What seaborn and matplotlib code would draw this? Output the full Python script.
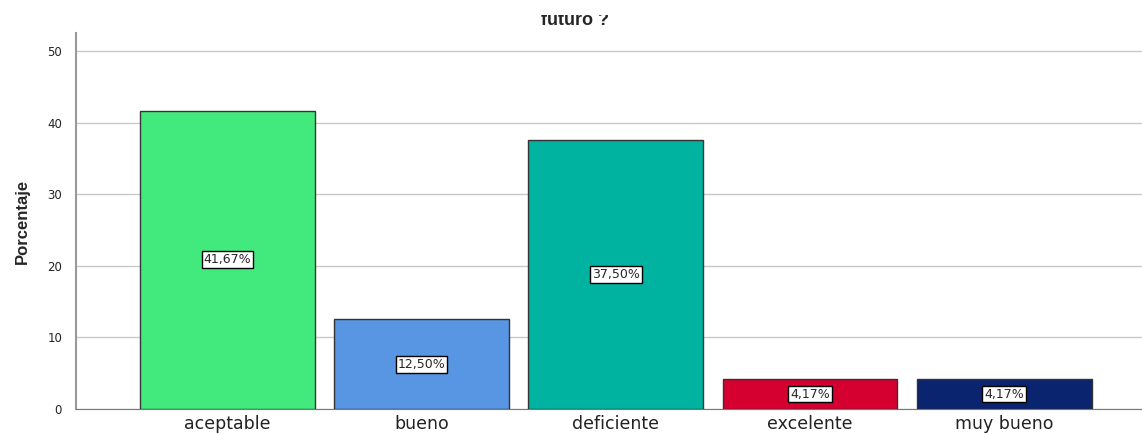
import matplotlib
matplotlib.use("Agg")
import matplotlib.pyplot as plt
from matplotlib.patches import Rectangle
import seaborn as sns
import pandas as pd

categorias = ["aceptable", "bueno", "deficiente", "excelente", "muy bueno"]
porcentajes = [41.67, 12.50, 37.50, 4.17, 4.17]
etiquetas = ["41,67%", "12,50%", "37,50%", "4,17%", "4,17%"]
colores = ["#42EA7E", "#5895E2", "#00B3A0", "#D5002F", "#0A2470"]
yticks = [0, 10, 20, 30, 40, 50]

df = pd.DataFrame({"cat": categorias, "pct": porcentajes})

sns.set_style("white")
plt.rcParams["font.family"] = ["DejaVu Sans"]

fig = plt.figure(figsize=(11.42, 4.34), dpi=100)
ax = fig.add_axes([76 / 1142, 1 - 409 / 434, 1 - 76 / 1142, (409 - 33) / 434])

sns.barplot(data=df, x="cat", y="pct", hue="cat", palette=colores, legend=False,
            saturation=1, width=0.9, edgecolor="#333333", linewidth=1, ax=ax, zorder=3)

for i, (v, t) in enumerate(zip(porcentajes, etiquetas)):
    ax.text(i, v / 2, t, ha="center", va="center", fontsize=9, zorder=5,
            bbox=dict(boxstyle="square,pad=0.15", fc="white", ec="black", lw=1))

ax.set_xlim(-0.78, 4.71)
ax.set_ylim(0, 52.5)
ax.set_yticks(yticks)
ax.yaxis.grid(True, color="#C8C8C8", lw=1, zorder=0)
ax.set_axisbelow(True)
ax.tick_params(axis="y", labelsize=8.5, length=0, pad=10, colors="#222222")
ax.tick_params(axis="x", labelsize=12.5, length=0, pad=4, colors="#222222")
ax.set_xlabel("")
ax.set_ylabel("Porcentaje", fontsize=12, fontweight="bold", family="Liberation Sans")
ax.yaxis.set_label_coords(-46 / 1066, 0.5)
for s in ["top", "right"]:
    ax.spines[s].set_visible(False)
ax.spines["left"].set_color("#999999")
ax.spines["bottom"].set_color("#777777")
ax.spines["left"].set_linewidth(1.5)

# last line of the (cropped) title
fig.text(575 / 1142, 1 - 25 / 434, "futuro ?", family="Liberation Sans",
         ha="center", va="baseline", fontsize=13, fontweight="bold")
fig.patches.append(Rectangle((0, 1 - 15 / 434), 1, 15 / 434, transform=fig.transFigure,
                             facecolor="white", edgecolor="none", zorder=10))

fig.savefig("out.png", dpi=100)
